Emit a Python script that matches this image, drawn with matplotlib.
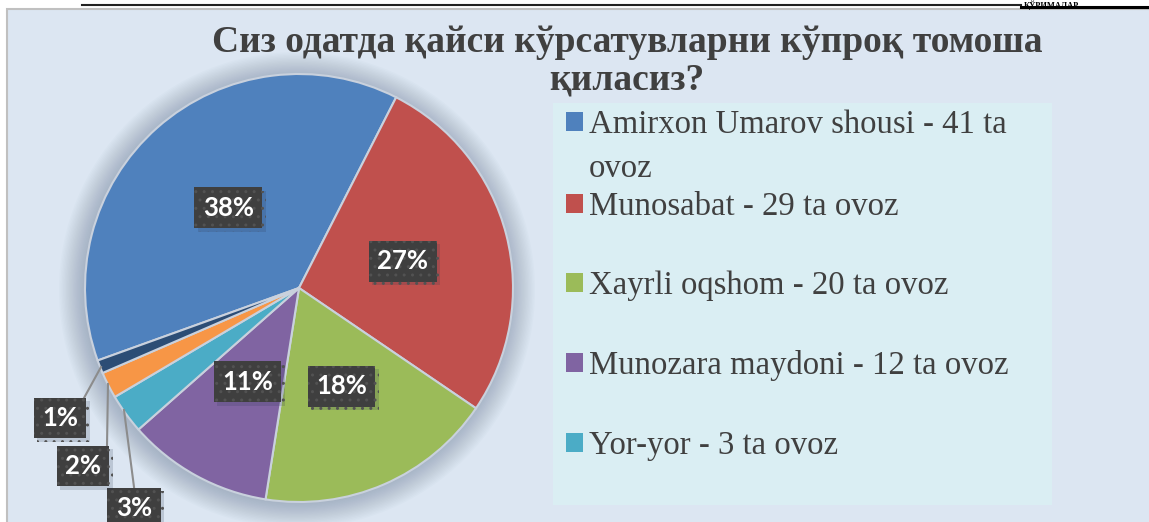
import matplotlib.pyplot as plt
import matplotlib.patches as mpatches
import matplotlib.patheffects as pe

# ma'lumotlar
title_line1 = "Сиз одатда қайси кўрсатувларни кўпроқ томоша"
title_line2 = "қиласиз?"
legend_labels = ["Amirxon Umarov shousi - 41 ta\novoz", "Munosabat - 29 ta ovoz",
                 "Xayrli oqshom - 20 ta ovoz", "Munozara maydoni - 12 ta ovoz",
                 "Yor-yor - 3 ta ovoz"]
percents = [38, 27, 18, 11, 3, 2, 1]
colors = ["#4f81bd", "#c0504d", "#9bbb59", "#8064a2", "#4bacc6", "#f79646", "#2c4d75"]

W, H = 1149, 522
fig = plt.figure(figsize=(W / 100, H / 100), dpi=100)
fig.patch.set_facecolor("white")
ax = fig.add_axes([0, 0, 1, 1])

# fon (diagramma maydoni)
ax.add_patch(mpatches.Rectangle((7, 9), W + 10, H + 10, facecolor="#dce6f2",
                                edgecolor="#c0c0c0", linewidth=1.5, zorder=0))
# yuqoridagi chiziq va matn
ax.plot([82, 1021], [5, 5], color="#222222", lw=1.5, zorder=1)
ax.plot([1021, W], [7, 7], color="#000000", lw=2.2, zorder=1)
ax.text(1024, 0.5, "ҚЎРИМАЛАР", fontsize=6, fontweight="bold", family="Liberation Serif",
        color="black", va="top", ha="left", zorder=1)

# pie markazi va radiusi (piksel)
cx, cy, r = 299, 288, 214

# soya
for k in range(18):
    ax.add_patch(mpatches.Circle((cx - 2, cy + 2), r + 24 - k * 1.4, facecolor="#5a6a85",
                                 edgecolor="none", alpha=0.022, zorder=1))

# y o'qi teskari -> counterclock=True ekranda soat yo'nalishi bo'yicha
wedges, texts, autotexts = ax.pie(
    percents, colors=colors, center=(cx, cy), radius=r, startangle=160.2,
    counterclock=True, autopct="%d%%", pctdistance=0.5,
    wedgeprops=dict(edgecolor="#c9d1dd", linewidth=1.5),
    textprops=dict(color="white", fontsize=18.5, fontweight="bold", family="Lato"))

box = dict(boxstyle="square,pad=0.33", facecolor="#3f3f3f", edgecolor="#525252",
           linewidth=0, hatch="..")
shadow = [pe.SimplePatchShadow(offset=(2.5, -2.5), shadow_rgbFace="#2a3550", alpha=0.18), pe.Normal()]
for i, t in enumerate(autotexts):
    if percents[i] < 5:
        t.set_visible(False)
        continue
    t.set_bbox(box)
    t.get_bbox_patch().set_path_effects(shadow)

# kichik bo'laklar uchun tashqi yorliqlar
small_pos = {4: (134, 508), 5: (83, 466), 6: (60, 418)}
line_pts = {4: ((134, 487), (124, 410)), 5: ((107, 446), (108, 384)), 6: ((84, 398), (101, 367))}
for i, (x, y) in small_pos.items():
    (x0, y0), (x1, y1) = line_pts[i]
    ax.plot([x0, x1], [y0, y1], color="#8c8c8c", lw=1.5, zorder=3)
    t = ax.text(x, y, f"{percents[i]}%", color="white", fontsize=18.5, fontweight="bold",
                family="Lato", ha="center", va="center", bbox=box, zorder=4)
    t.get_bbox_patch().set_path_effects(shadow)

# sarlavha
ax.text(627, 52, title_line1, fontsize=27, fontweight="bold", family="Liberation Serif",
        color="#404040", ha="center", va="baseline", zorder=5)
ax.text(627, 90, title_line2, fontsize=27, fontweight="bold", family="Liberation Serif",
        color="#404040", ha="center", va="baseline", zorder=5)

# legenda
ax.add_patch(mpatches.Rectangle((553, 103), 499, 402, facecolor="#daeef3",
                                edgecolor="none", zorder=2))
baselines = [133, 215, 294, 374, 454]
for lab, col, b in zip(legend_labels, colors, baselines):
    ax.add_patch(mpatches.Rectangle((566, b - 21), 17, 18.5, facecolor=col,
                                    edgecolor="none", zorder=3))
    lines = lab.split("\n")
    for j, ln in enumerate(lines):
        ax.text(589, b + j * 44, ln, fontsize=23.6, family="Liberation Serif",
                color="#404040", ha="left", va="baseline", zorder=3)

ax.set_xlim(0, W)
ax.set_ylim(H, 0)
ax.set_aspect("auto")
ax.axis("off")

fig.savefig("out.png", dpi=100, facecolor=fig.get_facecolor())
